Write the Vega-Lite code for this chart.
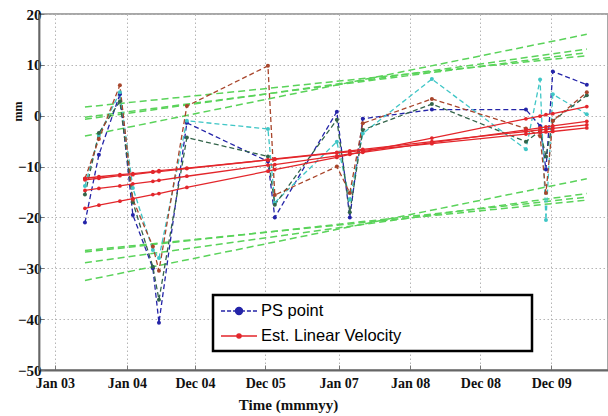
{
  "$schema": "https://vega.github.io/schema/vega-lite/v6.json",
  "autosize": "none",
  "width": 569,
  "height": 356,
  "padding": {"left": 39, "top": 14, "right": 0, "bottom": 46},
  "background": "white",
  "title": {"text": "(b)", "font": "Liberation Serif", "fontSize": 15, "fontWeight": "normal", "color": "#222", "anchor": "middle", "dx": -18, "baseline": "alphabetic", "offset": 8},
  "datasets": {
    "ps": [
      {"d": "2003-06-20", "PS point": -21.0, "PS b": -13.8, "PS c": -15.5, "PS d": -12.4},
      {"d": "2003-08-30", "PS point": -7.7, "PS b": -3.8, "PS c": -3.4, "PS d": -4.6},
      {"d": "2003-12-15", "PS point": 4.2, "PS b": 4.6, "PS c": 2.8, "PS d": 6.0},
      {"d": "2004-02-19", "PS point": -19.5, "PS b": -14.2, "PS c": -17.0, "PS d": -16.5},
      {"d": "2004-05-31", "PS point": -30.0, "PS b": -26.4, "PS c": -29.7, "PS d": -25.7},
      {"d": "2004-07-01", "PS point": -40.7, "PS b": -28.0, "PS c": -36.2, "PS d": -30.5},
      {"d": "2004-11-20", "PS point": -1.4, "PS b": -1.0, "PS c": -4.3, "PS d": 1.9},
      {"d": "2006-01-07", "PS point": -9.0, "PS b": -2.6, "PS c": -8.0, "PS d": 9.8},
      {"d": "2006-02-11", "PS point": -20.0, "PS b": -17.1, "PS c": -17.5, "PS d": -15.6},
      {"d": "2006-12-24", "PS point": 0.8, "PS b": -5.1, "PS c": -0.8, "PS d": -10.0},
      {"d": "2007-02-28", "PS point": -20.0, "PS b": -16.5, "PS c": -19.0, "PS d": -15.2},
      {"d": "2007-05-05", "PS point": -0.6, "PS b": -3.5, "PS c": -2.8, "PS d": -1.5},
      {"d": "2008-04-21", "PS point": 1.2, "PS b": 7.2, "PS c": 2.3, "PS d": 3.3},
      {"d": "2009-08-13", "PS point": 1.2, "PS b": -6.6, "PS c": -5.1, "PS d": -2.5},
      {"d": "2009-10-24", "PS point": -2.0, "PS b": 7.1, "PS c": -3.0, "PS d": -4.0},
      {"d": "2009-11-23", "PS point": -10.6, "PS b": -20.5, "PS c": -8.0, "PS d": -15.2},
      {"d": "2009-12-28", "PS point": 8.7, "PS b": 4.2, "PS c": -1.0, "PS d": -1.0},
      {"d": "2010-06-19", "PS point": 6.1, "PS b": 0.3, "PS c": 4.0, "PS d": 4.6}
    ],
    "est": [
      {"d": "2003-06-20", "R1": -12.3, "R2": -12.6, "R3": -14.7, "R4": -18.2},
      {"d": "2003-08-30", "R1": -12.0, "R2": -12.3, "R3": -14.3, "R4": -17.6},
      {"d": "2003-12-15", "R1": -11.6, "R2": -11.8, "R3": -13.8, "R4": -16.8},
      {"d": "2004-02-19", "R1": -11.4, "R2": -11.6, "R3": -13.4, "R4": -16.3},
      {"d": "2004-05-31", "R1": -11.0, "R2": -11.1, "R3": -12.9, "R4": -15.5},
      {"d": "2004-07-01", "R1": -10.8, "R2": -11.0, "R3": -12.7, "R4": -15.3},
      {"d": "2004-11-20", "R1": -10.3, "R2": -10.4, "R3": -11.9, "R4": -14.1},
      {"d": "2006-01-07", "R1": -8.7, "R2": -8.7, "R3": -9.7, "R4": -10.9},
      {"d": "2006-02-11", "R1": -8.6, "R2": -8.5, "R3": -9.6, "R4": -10.6},
      {"d": "2006-12-24", "R1": -7.3, "R2": -7.2, "R3": -7.9, "R4": -8.2},
      {"d": "2007-02-28", "R1": -7.1, "R2": -6.9, "R3": -7.5, "R4": -7.6},
      {"d": "2007-05-05", "R1": -6.8, "R2": -6.6, "R3": -7.2, "R4": -7.1},
      {"d": "2008-04-21", "R1": -5.5, "R2": -5.1, "R3": -5.3, "R4": -4.4},
      {"d": "2009-08-13", "R1": -3.6, "R2": -3.1, "R3": -2.8, "R4": -0.6},
      {"d": "2009-10-24", "R1": -3.3, "R2": -2.8, "R3": -2.4, "R4": -0.1},
      {"d": "2009-11-23", "R1": -3.2, "R2": -2.7, "R3": -2.2, "R4": 0.2},
      {"d": "2009-12-28", "R1": -3.1, "R2": -2.5, "R3": -2.0, "R4": 0.4},
      {"d": "2010-06-19", "R1": -2.4, "R2": -1.8, "R3": -1.1, "R4": 1.8}
    ],
    "bounds": [
      {"d": "2003-06-20", "U1": 1.7, "U2": -0.3, "U3": -0.7, "U4": -4.0, "L1": -26.5, "L2": -26.8, "L3": -28.9, "L4": -32.4},
      {"d": "2010-06-19", "U1": 11.8, "U2": 12.4, "U3": 13.1, "U4": 16.0, "L1": -16.6, "L2": -16.0, "L3": -15.3, "L4": -12.4}
    ]
  },
  "encoding": {
    "x": {
      "field": "d", "type": "temporal",
      "scale": {"type": "utc", "domain": [{"year": 2002, "month": 10, "date": 29, "utc": true}, {"year": 2010, "month": 10, "date": 5, "utc": true}]},
      "axis": {
        "values": [
          {"year": 2003, "month": 1, "date": 18, "utc": true},
          {"year": 2004, "month": 1, "date": 20, "utc": true},
          {"year": 2004, "month": 12, "date": 31, "utc": true},
          {"year": 2005, "month": 12, "date": 24, "utc": true},
          {"year": 2007, "month": 1, "date": 2, "utc": true},
          {"year": 2008, "month": 1, "date": 1, "utc": true},
          {"year": 2008, "month": 12, "date": 24, "utc": true},
          {"year": 2009, "month": 12, "date": 20, "utc": true}
        ],
        "labelExpr": "utcFormat(datum.value, '%b %y')",
        "title": "Time (mmmyy)", "labelFontSize": 14, "labelPadding": 11,
        "titleFontSize": 15, "titleX": 249, "titleY": 34, "titleAlign": "center", "titleBaseline": "middle"
      }
    },
    "y": {
      "field": "v", "type": "quantitative",
      "scale": {"domain": [-50, 20], "nice": false, "zero": false},
      "axis": {
        "values": [-50, -40, -30, -20, -10, 0, 10, 20],
        "title": "mm", "labelFontSize": 15, "labelPadding": 3,
        "titleFontSize": 12, "titleX": -22, "titleY": 97, "titleAngle": -90, "titleAlign": "center", "titleBaseline": "middle"
      }
    }
  },
  "layer": [
    {
      "data": {"name": "bounds"},
      "transform": [{"fold": ["U1", "U2", "U3", "U4", "L1", "L2", "L3", "L4"], "as": ["line", "v"]}],
      "mark": {"type": "line", "color": "#5ad35a", "strokeDash": [7, 4], "strokeWidth": 1.5},
      "encoding": {"detail": {"field": "line", "type": "nominal"}}
    },
    {
      "data": {"name": "ps"},
      "transform": [{"fold": ["PS point", "PS b", "PS c", "PS d"], "as": ["series", "v"]}],
      "mark": {"type": "line", "strokeDash": [5, 3], "strokeWidth": 1.3},
      "encoding": {
        "color": {
          "field": "series", "type": "nominal",
          "scale": {"domain": ["PS point", "PS b", "PS c", "PS d", "Est. Linear Velocity"], "range": ["#2424a8", "#3fc6c6", "#33644a", "#a8452b", "#e3262b"]},
          "legend": {
            "title": null, "orient": "none", "legendX": 174, "legendY": 281,
            "values": ["PS point", "Est. Linear Velocity"],
            "labelLimit": 600, "labelFont": "Liberation Sans", "labelFontSize": 16.5, "labelColor": "black",
            "symbolSize": 324, "symbolStrokeWidth": 1.6, "symbolOffset": 10, "labelOffset": 12,
            "rowPadding": 6, "padding": 6, "fillColor": "white", "strokeColor": "black",
            "encoding": {
              "symbols": {
                "shape": {"value": {"expr": "datum.value === 'PS point' ? 'M-2,0H-1.55M-1.33,0H-0.88M-0.66,0H-0.4M0.4,0H0.66M0.88,0H1.33M1.55,0H2M0.38,0A0.38,0.38,0,1,1,-0.38,0A0.38,0.38,0,1,1,0.38,0M31.5,0' : 'M-2,0H2M0.22,0A0.22,0.22,0,1,1,-0.22,0A0.22,0.22,0,1,1,0.22,0M31.5,0'"}},
                "fill": {"value": {"expr": "datum.value === 'PS point' ? 'white' : '#e3262b'"}},
                "stroke": {"value": {"expr": "datum.value === 'PS point' ? '#2424a8' : '#e3262b'"}},
                "strokeWidth": {"value": 1.6},
                "size": {"value": 324},
                "opacity": {"value": 1}
              },
              "legend": {"strokeWidth": {"value": 2.5}}
            }
          }
        }
      }
    },
    {
      "data": {"name": "ps"},
      "transform": [{"fold": ["PS point", "PS b", "PS c", "PS d"], "as": ["series", "v"]}],
      "mark": {"type": "point", "filled": true, "size": 16, "opacity": 1},
      "encoding": {"color": {"field": "series", "type": "nominal"}}
    },
    {
      "data": {"name": "est"},
      "transform": [{"fold": ["R1", "R2", "R3", "R4"], "as": ["line", "v"]}],
      "mark": {"type": "line", "strokeWidth": 1.3},
      "encoding": {"color": {"datum": "Est. Linear Velocity"}, "detail": {"field": "line", "type": "nominal"}}
    },
    {
      "data": {"name": "est"},
      "transform": [{"fold": ["R1", "R2", "R3", "R4"], "as": ["line", "v"]}],
      "mark": {"type": "point", "filled": true, "size": 14, "opacity": 1},
      "encoding": {"color": {"datum": "Est. Linear Velocity"}, "detail": {"field": "line", "type": "nominal"}}
    }
  ],
  "config": {
    "view": {"stroke": "#8a8a8a", "strokeWidth": 1.5},
    "axis": {
      "grid": true, "gridColor": "#b5b5b5", "gridDash": [1.5, 2.5], "gridWidth": 1,
      "domainColor": "#666666", "domainWidth": 1.8, "tickColor": "#777777", "tickSize": -5,
      "labelFont": "Liberation Serif", "labelFontWeight": "bold", "labelColor": "#111111", "labelFlush": false,
      "titleFont": "Liberation Serif", "titleFontWeight": "bold", "titleColor": "#111111"
    }
  }
}
